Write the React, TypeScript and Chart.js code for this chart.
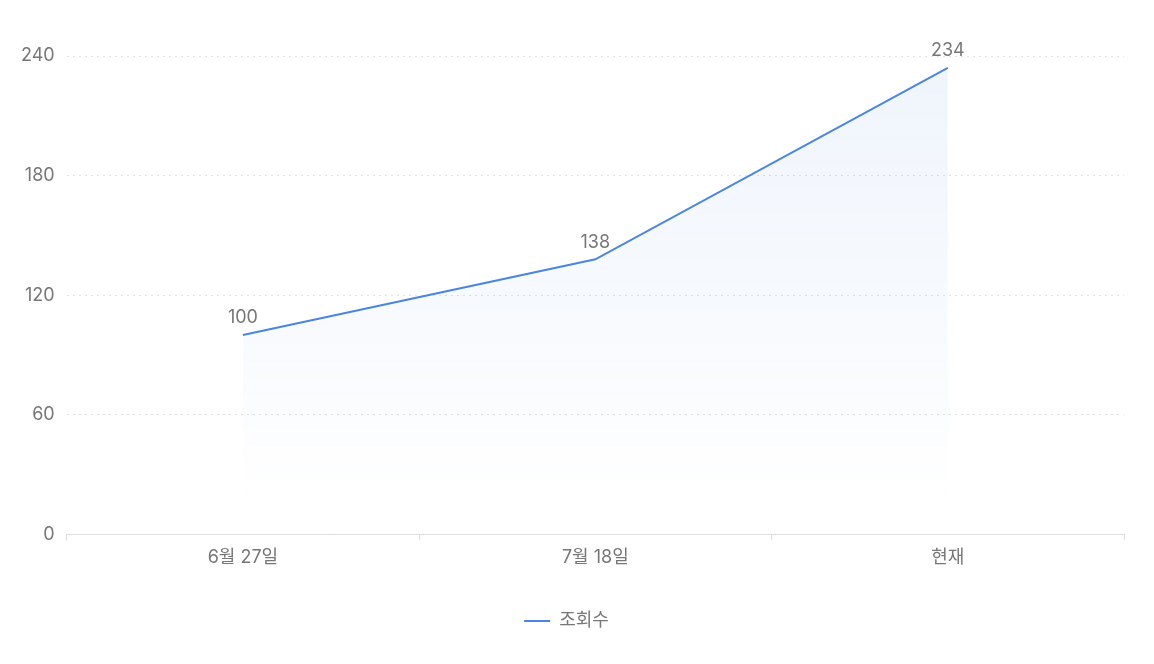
import React, { useEffect, useRef } from "react";
import { Chart, registerables } from "chart.js";

Chart.register(...registerables);

const categories = ["6월 27일", "7월 18일", "현재"];
const views = [100, 138, 234];
const yTicks = [0, 60, 120, 180, 240];
const seriesLabel = "조회수";

const FONT = "Inter, 'Noto Sans CJK KR', sans-serif";
const LINE_COLOR = "#4a86e0";
const TEXT_COLOR = "#777777";

const valueLabels = {
  id: "valueLabels",
  afterDatasetsDraw(chart: any) {
    const ctx = chart.ctx;
    const meta = chart.getDatasetMeta(0);
    const data = chart.data.datasets[0].data as number[];
    ctx.save();
    ctx.font = `18px ${FONT}`;
    ctx.fillStyle = TEXT_COLOR;
    ctx.textAlign = "center";
    ctx.textBaseline = "bottom";
    meta.data.forEach((pt: any, i: number) => {
      ctx.fillText(String(data[i]), pt.x, pt.y - 8);
    });
    ctx.restore();
  },
};

export default function App() {
  const ref = useRef<HTMLCanvasElement | null>(null);

  useEffect(() => {
    if (!ref.current) return;
    const chart = new Chart(ref.current, {
      type: "line",
      data: {
        labels: categories,
        datasets: [
          {
            label: seriesLabel,
            data: views,
            borderColor: LINE_COLOR,
            borderWidth: 2,
            pointRadius: 0,
            pointHoverRadius: 0,
            tension: 0,
            fill: "origin",
            backgroundColor: (context: any) => {
              const { chart } = context;
              const area = chart.chartArea;
              if (!area) return "rgba(74,134,224,0.06)";
              const g = chart.ctx.createLinearGradient(0, area.top, 0, area.bottom);
              g.addColorStop(0, "rgba(74,134,224,0.085)");
              g.addColorStop(0.55, "rgba(74,134,224,0.045)");
              g.addColorStop(0.94, "rgba(74,134,224,0.0)");
              g.addColorStop(1, "rgba(74,134,224,0.0)");
              return g;
            },
          },
        ],
      },
      options: {
        animation: false,
        responsive: true,
        maintainAspectRatio: false,
        layout: { padding: { top: 48, right: 22, left: 1, bottom: 16 } },
        plugins: {
          tooltip: { enabled: false },
          legend: {
            position: "bottom",
            labels: {
              usePointStyle: true,
              pointStyle: "line",
              pointStyleWidth: 26,
              color: TEXT_COLOR,
              font: { family: FONT, size: 18 },
              padding: 38,
              generateLabels: (chart: any) => {
                const ds = chart.data.datasets[0];
                return [
                  {
                    text: ds.label,
                    strokeStyle: LINE_COLOR,
                    fillStyle: LINE_COLOR,
                    lineWidth: 2,
                    pointStyle: "line",
                    fontColor: TEXT_COLOR,
                    datasetIndex: 0,
                    hidden: false,
                  },
                ];
              },
            },
          },
        },
        scales: {
          x: {
            type: "category",
            offset: true,
            grid: {
              display: true,
              offset: true,
              drawOnChartArea: false,
              drawTicks: true,
              tickLength: 6,
              color: "#dddddd",
            },
            border: { display: true, color: "#dddddd", width: 1 },
            ticks: {
              color: TEXT_COLOR,
              font: { family: FONT, size: 18 },
              padding: 6,
            },
          },
          y: {
            min: 0,
            max: 240,
            afterBuildTicks: (axis: any) => {
              axis.ticks = yTicks.map((v) => ({ value: v }));
            },
            grid: {
              color: "#e2e2e2",
              drawTicks: false,
              lineWidth: 1,
            },
            border: { display: false, dash: [2, 4] },
            ticks: {
              color: TEXT_COLOR,
              font: { family: FONT, size: 18 },
              padding: 12,
            },
          },
        },
      },
      plugins: [valueLabels],
    } as any);
    return () => chart.destroy();
  }, []);

  return (
    <div style={{ position: "relative", width: "100%", height: 648 }}>
      <canvas ref={ref} />
    </div>
  );
}
